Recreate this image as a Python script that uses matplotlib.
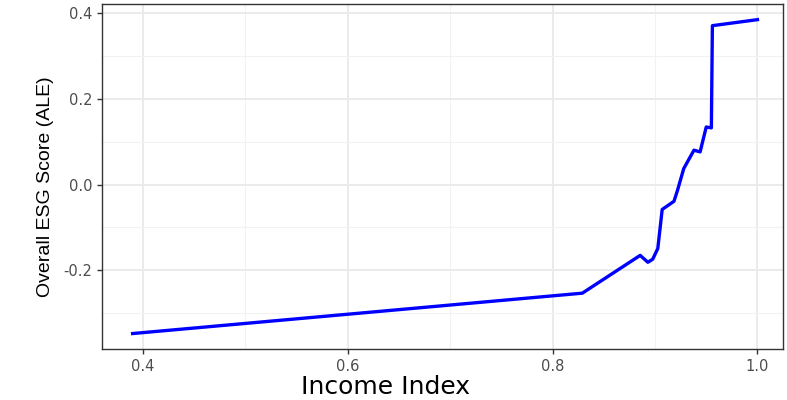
import numpy as np
import matplotlib
matplotlib.use("Agg")
import matplotlib.pyplot as plt
from matplotlib.ticker import MultipleLocator

# ALE curve
income_index = [0.390, 0.829, 0.8855, 0.893, 0.8977, 0.9027, 0.907, 0.9185,
                0.922, 0.928, 0.938, 0.944, 0.950, 0.955, 0.956, 1.000]
esg_ale = [-0.347, -0.253, -0.165, -0.181, -0.174, -0.149, -0.058, -0.039,
           -0.013, 0.037, 0.080, 0.076, 0.134, 0.132, 0.370, 0.384]

x_ticks = [0.4, 0.6, 0.8, 1.0]
y_ticks = [-0.2, 0.0, 0.2, 0.4]

fig = plt.figure(figsize=(7.87, 4.0), dpi=100)
ax = fig.add_axes([0.130, 0.1275, 0.865, 0.8615])

ax.plot(income_index, esg_ale, color="#0000FF", linewidth=2.4,
        solid_joinstyle="round", zorder=3)

ax.set_xlim(0.3604, 1.025)
ax.set_ylim(-0.383, 0.4195)

ax.set_xticks(x_ticks)
ax.set_xticklabels([f"{v:.1f}" for v in x_ticks])
ax.set_yticks(y_ticks)
ax.set_yticklabels([f"{v:.1f}" for v in y_ticks])
ax.xaxis.set_minor_locator(MultipleLocator(0.1))
ax.yaxis.set_minor_locator(MultipleLocator(0.1))

ax.grid(which="major", color="#EBEBEB", linewidth=1.4)
ax.grid(which="minor", color="#F2F2F2", linewidth=0.8)
ax.set_axisbelow(True)

for sp in ax.spines.values():
    sp.set_color("#333333")
    sp.set_linewidth(1.0)

ax.tick_params(which="major", length=3.5, width=1.0, color="#333333",
               labelcolor="#4D4D4D", labelsize=10.5, pad=3.5)
ax.tick_params(which="minor", length=0)

ax.set_xlabel("Income Index", fontsize=18, color="black")
ax.xaxis.set_label_coords(0.4166, -0.075)
ax.set_ylabel("Overall ESG Score (ALE)", fontsize=14, color="black",
              family=["Liberation Sans Narrow", "Liberation Sans", "DejaVu Sans"])
ax.yaxis.set_label_coords(-0.0713, 0.4715)

fig.savefig("out.png", dpi=100)
